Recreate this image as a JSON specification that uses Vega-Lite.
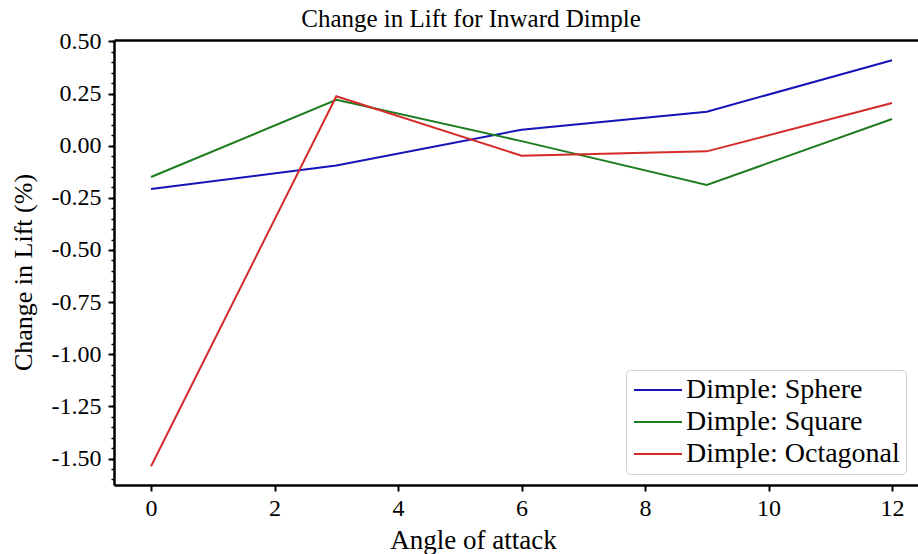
{
  "$schema": "https://vega.github.io/schema/vega-lite/v6.json",
  "width": 804,
  "height": 445,
  "autosize": {"type": "none"},
  "padding": {"left": 114, "top": 40, "right": 0, "bottom": 69},
  "background": "white",
  "title": {"text": "Change in Lift for Inward Dimple", "font": "Liberation Serif", "fontSize": 25, "fontWeight": "normal", "color": "black", "anchor": "middle", "frame": "group", "dx": -45, "dy": 23, "offset": 0, "baseline": "alphabetic"},
  "data": {"values": [
    {"angle": 0, "series": "Dimple: Sphere", "lift": -0.207},
    {"angle": 3, "series": "Dimple: Sphere", "lift": -0.095},
    {"angle": 6, "series": "Dimple: Sphere", "lift": 0.077},
    {"angle": 9, "series": "Dimple: Sphere", "lift": 0.163},
    {"angle": 12, "series": "Dimple: Sphere", "lift": 0.41},
    {"angle": 0, "series": "Dimple: Square", "lift": -0.15},
    {"angle": 3, "series": "Dimple: Square", "lift": 0.22},
    {"angle": 6, "series": "Dimple: Square", "lift": 0.022},
    {"angle": 9, "series": "Dimple: Square", "lift": -0.188},
    {"angle": 12, "series": "Dimple: Square", "lift": 0.128},
    {"angle": 0, "series": "Dimple: Octagonal", "lift": -1.537},
    {"angle": 3, "series": "Dimple: Octagonal", "lift": 0.237},
    {"angle": 6, "series": "Dimple: Octagonal", "lift": -0.048},
    {"angle": 9, "series": "Dimple: Octagonal", "lift": -0.027},
    {"angle": 12, "series": "Dimple: Octagonal", "lift": 0.205}
  ]},
  "config": {
    "view": {"stroke": null},
    "axis": {
      "domainColor": "black", "domainWidth": 2.5, "tickColor": "black", "tickWidth": 2, "tickSize": 6,
      "labelFont": "Liberation Serif", "labelFontSize": 24, "labelColor": "black",
      "titleFont": "Liberation Serif", "titleFontSize": 27, "titleFontWeight": "normal", "titleColor": "black",
      "grid": false
    }
  },
  "layer": [
    {
      "mark": {"type": "line", "strokeWidth": 2},
      "encoding": {
        "x": {"field": "angle", "type": "quantitative", "scale": {"domain": [-0.6, 12.42], "nice": false, "zero": false},
          "axis": {"values": [0, 2, 4, 6, 8, 10, 12], "format": "d", "labelPadding": 5, "title": "Angle of attack", "titleX": 359, "titleY": 63, "titleBaseline": "alphabetic", "titleAlign": "center"}},
        "y": {"field": "lift", "type": "quantitative", "scale": {"domain": [-1.627, 0.507], "nice": false, "zero": false},
          "axis": {"values": [-1.5, -1.25, -1, -0.75, -0.5, -0.25, 0, 0.25, 0.5], "format": ".2f", "labelExpr": "replace(datum.label, '\u2212', '-')", "labelPadding": 7, "title": "Change in Lift (%)", "titleFontSize": 26, "titleX": -91, "titleY": 232, "titleBaseline": "middle", "titleAlign": "center", "titleAngle": -90}},
        "color": {"field": "series", "type": "nominal",
          "scale": {"domain": ["Dimple: Sphere", "Dimple: Square", "Dimple: Octagonal"], "range": ["#1414b8", "#1f7d1f", "#d42a2a"]},
          "legend": {"title": null, "orient": "none", "legendX": 512, "legendY": 330, "labelFont": "Liberation Serif", "labelFontSize": 28, "labelColor": "black", "symbolType": "M-2,0H2", "symbolSize": 576, "symbolOffset": 12, "symbolStrokeWidth": 2, "strokeColor": "#d0d0d0", "fillColor": "rgba(255,255,255,0.85)", "padding": 6, "cornerRadius": 4, "rowPadding": 4, "labelOffset": 14, "labelLimit": 400}}
      }
    },
    {
      "mark": {"type": "line", "opacity": 0},
      "encoding": {
        "x": {"field": "angle", "type": "quantitative",
          "axis": {"orient": "top", "domain": true, "ticks": false, "labels": false, "title": null, "minExtent": 0, "maxExtent": 0}},
        "y": {"field": "lift", "type": "quantitative",
          "axis": {"orient": "left", "values": [-1.6, -1.55, -1.5, -1.45, -1.4, -1.35, -1.3, -1.25, -1.2, -1.15, -1.1, -1.05, -1.0, -0.95, -0.9, -0.85, -0.8, -0.75, -0.7, -0.65, -0.6, -0.55, -0.5, -0.45, -0.4, -0.35, -0.3, -0.25, -0.2, -0.15, -0.1, -0.05, 0, 0.05, 0.1, 0.15, 0.2, 0.25, 0.3, 0.35, 0.4, 0.45, 0.5], "labels": false, "tickSize": 3, "tickWidth": 1.5, "domain": false, "title": null}}
      }
    }
  ],
  "resolve": {"axis": {"x": "independent", "y": "independent"}}
}
